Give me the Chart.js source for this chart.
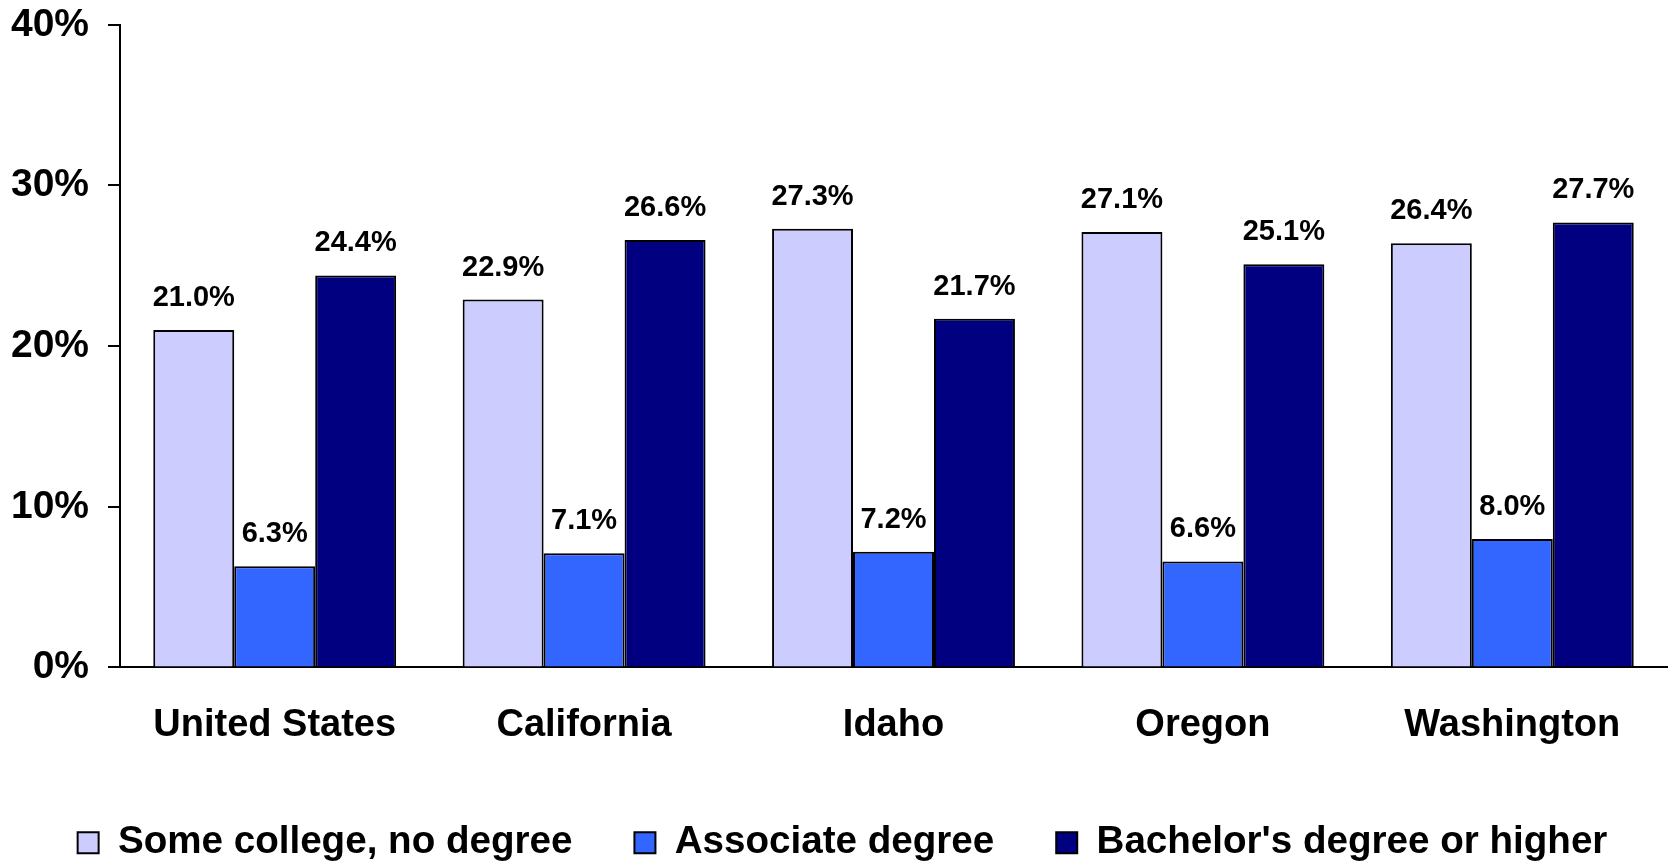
<!DOCTYPE html>
<html>
<head>
<meta charset="utf-8">
<script src="https://cdn.jsdelivr.net/npm/chart.js@4"></script>
<style>
  html, body { margin: 0; padding: 0; background: #ffffff; }
  #wrap { width: 1669px; height: 861px; }
</style>
</head>
<body>
<div id="wrap"><canvas id="eduChart"></canvas></div>
<script>
const places = ["United States", "California", "Idaho", "Oregon", "Washington"];
const someCollege = [21.0, 22.9, 27.3, 27.1, 26.4];
const associate = [6.3, 7.1, 7.2, 6.6, 8.0];
const bachelors = [24.4, 26.6, 21.7, 25.1, 27.7];

const fontFam = "'Liberation Sans', Arial, sans-serif";

// value labels above each bar
const barLabels = {
  id: "barLabels",
  afterDatasetsDraw(chart) {
    const ctx = chart.ctx;
    ctx.save();
    ctx.font = "bold 29px " + fontFam;
    ctx.fillStyle = "#000";
    ctx.textAlign = "center";
    ctx.textBaseline = "alphabetic";
    chart.data.datasets.forEach((ds, i) => {
      chart.getDatasetMeta(i).data.forEach((bar, j) => {
        ctx.fillText(ds.data[j].toFixed(1) + "%", bar.x, bar.y - 24);
      });
    });
    ctx.restore();
  }
};

// nudge the legend a little to the right, like the original
const legendShift = {
  id: "legendShift",
  afterLayout(chart) {
    chart.legend.left += 9;
    chart.legend.right += 9;
  }
};

let myChart = new Chart(document.getElementById("eduChart"), {
  type: "bar",
  data: {
    labels: places,
    datasets: [
      {
        label: "Some college, no degree",
        data: someCollege,
        backgroundColor: "#ccccff",
        borderColor: "#000",
        borderWidth: 2,
      },
      {
        label: "Associate degree",
        data: associate,
        backgroundColor: "#3366ff",
        borderColor: "#000",
        borderWidth: 2,
      },
      {
        label: "Bachelor's degree or higher",
        data: bachelors,
        backgroundColor: "#000080",
        borderColor: "#000",
        borderWidth: 2,
      },
    ],
  },
  options: {
    responsive: true,
    maintainAspectRatio: false,
    animation: false,
    layout: { padding: { top: 0, right: 2, bottom: -11, left: 0 } },
    datasets: {
      bar: { barPercentage: 1, categoryPercentage: 0.785, borderSkipped: "bottom" },
    },
    plugins: {
      tooltip: { enabled: false },
      legend: {
        position: "bottom",
        labels: {
          boxWidth: 21,
          boxHeight: 21,
          padding: 62,
          color: "#000",
          font: { family: fontFam, size: 38.6, weight: "bold", lineHeight: 0.6 },
        },
      },
    },
    scales: {
      x: {
        afterFit(scale) { scale.height = 94; },
        grid: { display: true, drawOnChartArea: false, drawTicks: false },
        border: { display: true, color: "#000", width: 2 },
        ticks: {
          color: "#000",
          padding: 35,
          font: { family: fontFam, size: 38, weight: "bold" },
        },
      },
      y: {
        min: 0,
        max: 40,
        afterFit(scale) { scale.width = 120; },
        grid: { drawOnChartArea: false, drawTicks: true, tickLength: 12, color: "#000", lineWidth: 2 },
        border: { display: true, color: "#000", width: 2 },
        ticks: {
          stepSize: 10,
          color: "#000",
          padding: 19,
          font: { family: fontFam, size: 39, weight: "bold", lineHeight: 0.3 },
          callback: (v) => v + "%",
        },
      },
    },
  },
  plugins: [barLabels, legendShift],
});
</script>
</body>
</html>
